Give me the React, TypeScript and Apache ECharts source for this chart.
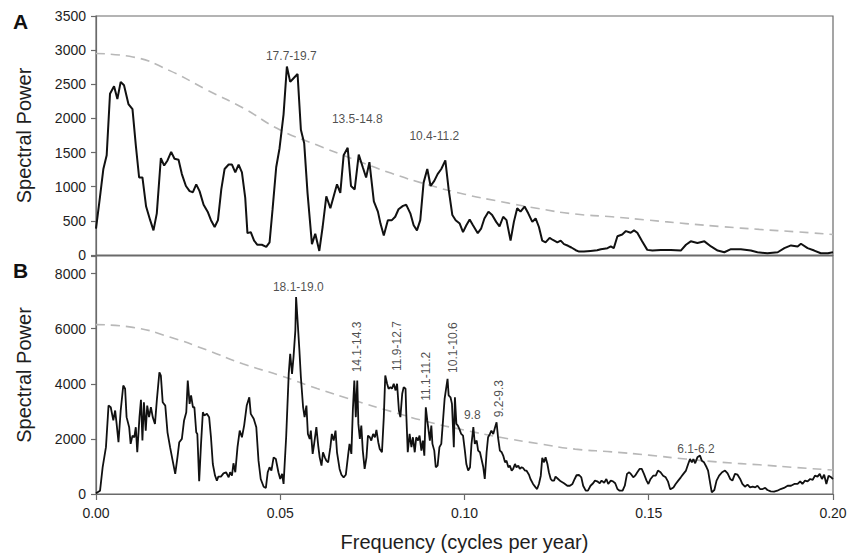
import React, { useEffect, useRef } from "react";
import * as echarts from "echarts";

// Spectral power of the record (panel A), [frequency, power]
const spectrumA: number[][] = [
  [0, 385], [0.0011, 860], [0.002, 1260], [0.0029, 1460], [0.0038, 2360], [0.0049, 2470], [0.0058, 2285],
  [0.0067, 2535], [0.0076, 2485], [0.0088, 2210], [0.0099, 2135], [0.0108, 1610], [0.0117, 1135], [0.0126, 1135],
  [0.0136, 710], [0.0147, 510], [0.0156, 360], [0.0165, 610], [0.0176, 1420], [0.0185, 1310], [0.0194, 1385],
  [0.0204, 1510], [0.0213, 1410], [0.0224, 1395], [0.0233, 1185], [0.0244, 1010], [0.0254, 935], [0.0263, 920],
  [0.0272, 1035], [0.0281, 935], [0.0292, 735], [0.0303, 635], [0.0312, 510], [0.0322, 410], [0.0331, 510],
  [0.034, 960], [0.0349, 1260], [0.036, 1325], [0.0369, 1325], [0.0378, 1210], [0.0387, 1325], [0.0396, 1210],
  [0.0405, 835], [0.0411, 320], [0.042, 335], [0.0429, 210], [0.0438, 150], [0.045, 150], [0.0462, 120],
  [0.0471, 185], [0.0479, 660], [0.0489, 1285], [0.0498, 1560], [0.0509, 2060], [0.0518, 2760], [0.0527, 2535],
  [0.0538, 2600], [0.0547, 2650], [0.0556, 1835], [0.0565, 1635], [0.0574, 910], [0.0586, 160], [0.0595, 310],
  [0.0606, 60], [0.0615, 410], [0.0625, 860], [0.0636, 685], [0.0645, 860], [0.0654, 1035], [0.0663, 910],
  [0.0672, 1460], [0.0683, 1570], [0.0692, 1010], [0.0702, 960], [0.0713, 1470], [0.0724, 1285], [0.0733, 1135],
  [0.0742, 1360], [0.0754, 785], [0.0765, 635], [0.0772, 460], [0.0781, 285], [0.0792, 510], [0.0803, 510],
  [0.0812, 560], [0.0821, 670], [0.0833, 720], [0.0842, 735], [0.0853, 610], [0.0862, 435], [0.0871, 360],
  [0.088, 510], [0.0889, 1060], [0.0899, 1260], [0.0908, 1010], [0.0918, 1085], [0.0927, 1185], [0.0937, 1260],
  [0.0948, 1385], [0.0957, 960], [0.0967, 585], [0.0976, 510], [0.0987, 460], [0.0996, 335], [0.1005, 435],
  [0.1014, 520], [0.1023, 435], [0.1036, 320], [0.1045, 385], [0.1054, 535], [0.1065, 635], [0.1075, 585],
  [0.1086, 485], [0.1095, 420], [0.1105, 560], [0.1114, 510], [0.1125, 210], [0.1134, 485], [0.1143, 685],
  [0.1152, 635], [0.1163, 710], [0.1173, 610], [0.1184, 485], [0.1193, 535], [0.1202, 410], [0.1211, 210],
  [0.122, 185], [0.1231, 250], [0.124, 220], [0.1252, 185], [0.1261, 210], [0.127, 160], [0.1281, 135],
  [0.129, 110], [0.1302, 70], [0.1311, 50], [0.1324, 50], [0.1342, 60], [0.136, 70], [0.137, 85],
  [0.1388, 100], [0.1397, 125], [0.1405, 100], [0.1415, 275], [0.1428, 300], [0.1438, 350], [0.1451, 325],
  [0.146, 360], [0.1469, 325], [0.1482, 200], [0.1496, 75], [0.151, 65], [0.1533, 75], [0.156, 75],
  [0.1587, 65], [0.1601, 150], [0.1614, 200], [0.1632, 175], [0.1651, 200], [0.1669, 125], [0.1687, 65],
  [0.1705, 40], [0.1723, 85], [0.175, 85], [0.1777, 65], [0.1795, 40], [0.1822, 25], [0.185, 40],
  [0.1868, 100], [0.1886, 140], [0.1904, 125], [0.1913, 165], [0.1931, 100], [0.1949, 65], [0.1967, 25],
  [0.1986, 25], [0.2, 40],
];

// Red-noise significance level for panel A
const thresholdA: number[][] = [
  [0, 2950], [0.01, 2900], [0.02, 2700], [0.03, 2420], [0.04, 2150], [0.05, 1830], [0.06, 1610],
  [0.07, 1400], [0.08, 1200], [0.09, 1030], [0.1, 890], [0.11, 780], [0.12, 680], [0.13, 600],
  [0.14, 560], [0.15, 510], [0.16, 460], [0.17, 415], [0.18, 375], [0.19, 340], [0.2, 300],
];

// Spectral power of the record (panel B), [frequency, power]
const spectrumB: number[][] = [
  [0, 25], [0.0011, 120], [0.0018, 970], [0.0027, 1700], [0.0034, 3210], [0.004, 3150], [0.0047, 2670],
  [0.0052, 3030], [0.0056, 2545], [0.0061, 1880], [0.0067, 3030], [0.0074, 3940], [0.0079, 3820], [0.0083, 2790],
  [0.009, 2425], [0.0094, 1820], [0.0099, 2120], [0.0104, 2060], [0.0108, 2425], [0.0112, 1515], [0.0118, 2790],
  [0.0122, 3420], [0.0126, 1940], [0.013, 3330], [0.0135, 2300], [0.0139, 3210], [0.0144, 2790], [0.0149, 3150],
  [0.0154, 2790], [0.016, 2545], [0.0165, 3390], [0.0172, 4420], [0.0176, 4300], [0.0181, 3330], [0.0188, 3210],
  [0.0194, 2240], [0.0201, 1700], [0.0208, 1210], [0.0215, 730], [0.0221, 1330], [0.0226, 1880], [0.0233, 2000],
  [0.0239, 2670], [0.0245, 2970], [0.0249, 4120], [0.0254, 3270], [0.0258, 3580], [0.0263, 3150], [0.0267, 3150],
  [0.0272, 2240], [0.0275, 2180], [0.028, 460], [0.0285, 1820], [0.029, 2970], [0.0294, 2850], [0.0301, 2910],
  [0.0307, 2790], [0.0312, 2060], [0.0317, 1090], [0.0323, 670], [0.0328, 485], [0.0332, 630], [0.0339, 630],
  [0.0346, 750], [0.0353, 790], [0.036, 605], [0.0364, 790], [0.0369, 670], [0.0373, 1115], [0.0378, 790],
  [0.0384, 1700], [0.039, 2300], [0.0396, 2060], [0.0402, 2485], [0.0409, 3210], [0.0416, 3510], [0.042, 2910],
  [0.0428, 2730], [0.0435, 2425], [0.0441, 1210], [0.0447, 545], [0.0455, 265], [0.0461, 220], [0.0466, 790],
  [0.0471, 970], [0.0476, 850], [0.0482, 1330], [0.0488, 1270], [0.0495, 790], [0.05, 545], [0.0505, 730],
  [0.0509, 365], [0.0516, 2060], [0.0523, 4360], [0.0527, 5090], [0.0532, 4360], [0.0536, 4970], [0.0541, 5940],
  [0.0543, 7150], [0.0547, 6300], [0.0552, 5210], [0.0556, 4240], [0.0562, 3150], [0.0566, 2790], [0.0571, 3210],
  [0.0575, 2180], [0.058, 2000], [0.0583, 2300], [0.0588, 1455], [0.0592, 1820], [0.0598, 2425], [0.0603, 1760],
  [0.0607, 1330], [0.0612, 1030], [0.0616, 1515], [0.0621, 1330], [0.0625, 1210], [0.063, 1150], [0.0636, 1700],
  [0.064, 2180], [0.0645, 1940], [0.065, 2300], [0.0654, 1515], [0.0661, 910], [0.0666, 700], [0.0672, 605],
  [0.0678, 700], [0.0684, 1390], [0.0688, 1820], [0.0693, 1455], [0.0697, 3030], [0.0701, 4120], [0.0705, 2790],
  [0.0709, 4120], [0.0712, 2545], [0.0716, 2000], [0.072, 2485], [0.0724, 1575], [0.0729, 910], [0.0734, 1330],
  [0.0738, 2120], [0.0743, 2060], [0.0747, 1940], [0.0752, 2180], [0.0757, 2060], [0.0761, 2325], [0.0766, 1880],
  [0.077, 1635], [0.0776, 1515], [0.0781, 2790], [0.0785, 4300], [0.079, 4000], [0.0794, 3820], [0.0799, 3880],
  [0.0803, 3820], [0.0808, 4000], [0.0813, 3760], [0.0817, 4000], [0.0822, 3030], [0.0826, 2790], [0.0831, 3640],
  [0.0835, 3880], [0.084, 3820], [0.0842, 2910], [0.0846, 1515], [0.0851, 2180], [0.0856, 1700], [0.086, 2060],
  [0.0865, 1515], [0.0869, 2060], [0.0874, 1940], [0.0878, 2120], [0.0883, 1575], [0.0887, 1940], [0.0891, 1390],
  [0.0895, 3150], [0.0899, 2670], [0.0902, 2365], [0.0906, 1940], [0.091, 2485], [0.0913, 1820], [0.0918, 1575],
  [0.0922, 970], [0.0927, 1030], [0.0932, 1700], [0.0937, 1820], [0.0941, 2545], [0.0946, 3450], [0.095, 3820],
  [0.0954, 4180], [0.0957, 3580], [0.0962, 3510], [0.0966, 3270], [0.0971, 1700], [0.0974, 3510], [0.0978, 2545],
  [0.0982, 2485], [0.0986, 2365], [0.0991, 2180], [0.0996, 2120], [0.1001, 1575], [0.1005, 1090], [0.101, 850],
  [0.1015, 970], [0.1019, 1820], [0.1024, 2425], [0.1028, 1820], [0.1033, 1940], [0.1037, 1575], [0.1042, 1515],
  [0.1051, 970], [0.1055, 545], [0.106, 1515], [0.1064, 2060], [0.1069, 2180], [0.1073, 2300], [0.1078, 2180],
  [0.1083, 2425], [0.1087, 2605], [0.1091, 2060], [0.1096, 1575], [0.1101, 1515], [0.1105, 1395], [0.111, 1150],
  [0.1114, 1210], [0.1119, 970], [0.1123, 1030], [0.1128, 850], [0.1132, 910], [0.1137, 1090], [0.1141, 970],
  [0.1146, 1030], [0.115, 910], [0.1155, 970], [0.1159, 945], [0.1164, 850], [0.1168, 850], [0.1175, 700],
  [0.1179, 545], [0.1186, 365], [0.1193, 240], [0.1197, 180], [0.1202, 365], [0.1207, 665], [0.1211, 1310],
  [0.1216, 1150], [0.122, 1330], [0.1225, 1090], [0.1229, 790], [0.1234, 545], [0.1238, 485], [0.1243, 485],
  [0.1247, 630], [0.1254, 545], [0.1261, 460], [0.127, 390], [0.1279, 300], [0.1286, 300], [0.1293, 365],
  [0.1299, 545], [0.1304, 680], [0.1311, 690], [0.1317, 605], [0.1322, 300], [0.1329, 120], [0.1335, 120],
  [0.1342, 300], [0.1349, 390], [0.1354, 485], [0.136, 460], [0.1367, 390], [0.1372, 485], [0.1379, 410],
  [0.1385, 545], [0.139, 365], [0.1397, 485], [0.1403, 460], [0.1409, 390], [0.1415, 180], [0.1421, 120],
  [0.1429, 120], [0.1435, 300], [0.1441, 730], [0.1447, 790], [0.1453, 700], [0.1458, 605], [0.1463, 665],
  [0.1469, 790], [0.1475, 910], [0.1481, 910], [0.1487, 730], [0.1494, 485], [0.1499, 365], [0.1505, 545],
  [0.1512, 665], [0.1519, 665], [0.1525, 850], [0.1532, 790], [0.1539, 665], [0.1546, 605], [0.1552, 460],
  [0.1558, 180], [0.156, 180], [0.1567, 240], [0.1573, 365], [0.158, 485], [0.1587, 605], [0.1594, 730],
  [0.1601, 850], [0.1607, 1090], [0.1612, 1270], [0.1617, 1150], [0.1621, 1270], [0.1626, 1115], [0.1632, 1330],
  [0.1639, 1395], [0.1644, 1210], [0.165, 1150], [0.1657, 970], [0.1661, 850], [0.1667, 365], [0.1671, 60],
  [0.1678, 145], [0.1684, 485], [0.1691, 665], [0.1699, 790], [0.1707, 850], [0.1714, 750], [0.1721, 545],
  [0.1727, 485], [0.1734, 730], [0.1741, 700], [0.1748, 545], [0.1754, 365], [0.1761, 265], [0.1768, 340],
  [0.1775, 240], [0.1782, 265], [0.1789, 240], [0.1795, 300], [0.1802, 180], [0.1809, 180], [0.1816, 220],
  [0.1822, 145], [0.1831, 95], [0.184, 85], [0.1849, 120], [0.1858, 180], [0.1867, 220], [0.1877, 300],
  [0.1886, 300], [0.1895, 365], [0.1904, 365], [0.1911, 460], [0.1917, 365], [0.1924, 485], [0.1931, 460],
  [0.1938, 545], [0.1945, 510], [0.1951, 665], [0.1958, 630], [0.1964, 730], [0.197, 545], [0.1976, 700],
  [0.1982, 365], [0.1988, 665], [0.1995, 605], [0.2, 545],
];

// Red-noise significance level for panel B
const thresholdB: number[][] = [
  [0, 6150], [0.01, 6050], [0.02, 5700], [0.03, 5230], [0.04, 4720], [0.05, 4300], [0.06, 3830],
  [0.07, 3400], [0.08, 3000], [0.09, 2620], [0.1, 2320], [0.11, 2050], [0.12, 1830], [0.13, 1630],
  [0.14, 1530], [0.15, 1410], [0.16, 1270], [0.17, 1150], [0.18, 1060], [0.19, 960], [0.2, 870],
];

// Period annotations (years): text, anchor frequency, anchor power, rotation
const peaksA: [string, number, number, number][] = [
  ["17.7-19.7", 0.053, 2913, 0],
  ["13.5-14.8", 0.0709, 1991, 0],
  ["10.4-11.2", 0.0918, 1742, 0],
];
const peaksB: [string, number, number, number][] = [
  ["18.1-19.0", 0.0549, 7519, 0],
  ["14.1-14.3", 0.0708, 5338, 90],
  ["11.9-12.7", 0.0817, 5370, 90],
  ["11.1-11.2", 0.0896, 4272, 90],
  ["10.1-10.6", 0.0969, 5316, 90],
  ["9.8", 0.1021, 2854, 0],
  ["9.2-9.3", 0.1093, 3461, 90],
  ["6.1-6.2", 0.1628, 1643, 0],
];

const freqTicks = { min: 0, max: 0.2, interval: 0.05 };
const FONT = "'Liberation Sans', Arial, Helvetica, sans-serif";
const AXIS_GREY = "#6a6a6a";
const TEXT = "#1e1e1e";

function annotationSeries(peaks: [string, number, number, number][], idx: number) {
  return {
    type: "scatter",
    xAxisIndex: idx,
    yAxisIndex: idx,
    symbolSize: 0,
    silent: true,
    z: 5,
    itemStyle: { color: "#000" },
    data: peaks.map(([text, f, p, rot]) => ({
      value: [f, p],
      label: {
        show: true,
        position: "inside",
        formatter: text,
        rotate: rot,
        color: TEXT,
        fontSize: 12,
        fontFamily: FONT,
        textBorderWidth: 0,
        textBorderColor: "transparent",
      },
    })),
  };
}

export default function App() {
  const ref = useRef<HTMLDivElement>(null);

  useEffect(() => {
    if (!ref.current) return;
    const chart = echarts.init(ref.current, undefined, { renderer: "svg" });

    const yCommon = {
      type: "value",
      name: "Spectral Power",
      nameLocation: "middle",
      nameGap: 62,
      nameTextStyle: { fontSize: 20, color: TEXT, fontFamily: FONT },
      axisLine: { show: true, lineStyle: { color: AXIS_GREY, width: 1.2 } },
      axisTick: { show: true, inside: false, length: 5, lineStyle: { color: AXIS_GREY, width: 1.2 } },
      splitLine: { show: false },
    };

    const option = {
      animation: false,
      backgroundColor: "#fff",
      textStyle: { fontFamily: FONT },
      grid: [
        { left: 96, top: 16, width: 737, height: 239, show: true, borderColor: AXIS_GREY, borderWidth: 1.2, backgroundColor: "transparent" },
        { left: 96, top: 256, width: 737, height: 238, show: true, borderColor: AXIS_GREY, borderWidth: 1.2, backgroundColor: "transparent" },
      ],
      xAxis: [
        {
          type: "value",
          gridIndex: 0,
          ...freqTicks,
          axisLine: { show: true, lineStyle: { color: AXIS_GREY, width: 1.2 } },
          axisTick: { show: false },
          axisLabel: { show: false },
          splitLine: { show: false },
        },
        {
          type: "value",
          gridIndex: 1,
          ...freqTicks,
          name: "Frequency (cycles per year)",
          nameLocation: "middle",
          nameGap: 38,
          nameTextStyle: { fontSize: 20, color: TEXT, fontFamily: FONT },
          axisLine: { show: true, lineStyle: { color: AXIS_GREY, width: 1.2 } },
          axisTick: { show: true, inside: false, length: 6, lineStyle: { color: AXIS_GREY, width: 1.2 } },
          axisLabel: {
            color: TEXT,
            fontSize: 14,
            fontFamily: FONT,
            margin: 12,
            formatter: (v: number) => v.toFixed(2),
          },
          splitLine: { show: false },
        },
      ],
      yAxis: [
        {
          ...yCommon,
          gridIndex: 0,
          min: 0,
          max: 3500,
          interval: 500,
          axisLabel: {
            color: TEXT,
            fontSize: 14,
            fontFamily: FONT,
            margin: 10,
            formatter: (v: number) => String(v),
          },
        },
        {
          ...yCommon,
          gridIndex: 1,
          min: 0,
          max: 8640,
          interval: 2000,
          axisLabel: {
            color: TEXT,
            fontSize: 14,
            fontFamily: FONT,
            margin: 10,
            formatter: (v: number) => (v % 2000 === 0 ? String(v) : ""),
          },
        },
      ],
      graphic: [
        { type: "text", left: 13, top: 11, style: { text: "A", font: `bold 21px ${FONT}`, fill: "#111" } },
        { type: "text", left: 13, top: 260, style: { text: "B", font: `bold 21px ${FONT}`, fill: "#111" } },
      ],
      series: [
        {
          type: "line",
          xAxisIndex: 0,
          yAxisIndex: 0,
          data: thresholdA,
          smooth: true,
          showSymbol: false,
          silent: true,
          lineStyle: { color: "#b8b8b8", width: 1.6, type: [9, 6] },
        },
        {
          type: "line",
          xAxisIndex: 0,
          yAxisIndex: 0,
          data: spectrumA,
          showSymbol: false,
          silent: true,
          lineStyle: { color: "#111", width: 2 },
        },
        {
          type: "line",
          xAxisIndex: 1,
          yAxisIndex: 1,
          data: thresholdB,
          smooth: true,
          showSymbol: false,
          silent: true,
          lineStyle: { color: "#b8b8b8", width: 1.6, type: [9, 6] },
        },
        {
          type: "line",
          xAxisIndex: 1,
          yAxisIndex: 1,
          data: spectrumB,
          showSymbol: false,
          silent: true,
          lineStyle: { color: "#111", width: 1.8 },
        },
        annotationSeries(peaksA, 0),
        annotationSeries(peaksB, 1),
      ],
    };

    chart.setOption(option as any);
    return () => chart.dispose();
  }, []);

  return (
    <div
      ref={ref}
      style={{ position: "fixed", left: 0, top: 0, width: 851, height: 558, background: "#fff" }}
    />
  );
}
